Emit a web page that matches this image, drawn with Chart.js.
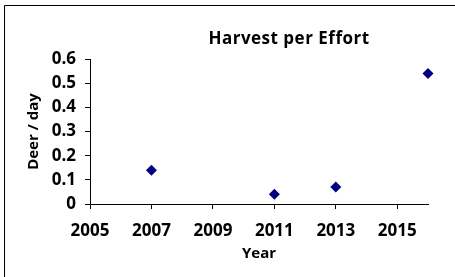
<!DOCTYPE html>
<html>
<head>
<meta charset="utf-8">
<script src="https://cdn.jsdelivr.net/npm/chart.js@4"></script>
<style>
  html, body { margin: 0; padding: 0; background: #fff; }
  #wrap { width: 455px; height: 277px; position: relative; }
</style>
</head>
<body>
<div id="wrap"><canvas id="harvestChart" width="455" height="277"></canvas></div>
<script>
const years = [2007, 2011, 2013, 2016];
const deerPerDay = [0.14, 0.04, 0.07, 0.54];
const xTicks = [2005, 2007, 2009, 2011, 2013, 2015];
const yTicks = [0, 0.1, 0.2, 0.3, 0.4, 0.5, 0.6];

const FONT = "'Open Sans', sans-serif";

// Excel-like frame and free-positioned title
const framePlugin = {
    id: "frame",
    afterDraw(chart) {
        const ctx = chart.ctx;
        ctx.save();
        ctx.strokeStyle = "#000";
        ctx.lineWidth = 1;
        ctx.beginPath();
        ctx.moveTo(4.5, 300);
        ctx.lineTo(4.5, 5.5);
        ctx.lineTo(460, 5.5);
        ctx.stroke();
        ctx.fillStyle = "#000";
        ctx.font = "bold 17px " + FONT;
        ctx.letterSpacing = "0.5px";
        ctx.textAlign = "center";
        ctx.textBaseline = "middle";
        ctx.fillText("Harvest per Effort", 289, 39);
        ctx.restore();
    }
};

new Chart(document.getElementById("harvestChart"), {
    type: "scatter",
    data: {
        datasets: [{
            label: "Harvest per Effort",
            data: years.map((y, i) => ({ x: y, y: deerPerDay[i] })),
            pointStyle: "rectRot",
            pointRadius: 5.5,
            pointHoverRadius: 5.5,
            backgroundColor: "#000080",
            borderColor: "#000080",
            borderWidth: 0,
            clip: false
        }]
    },
    options: {
        responsive: false,
        animation: false,
        layout: { padding: { top: 59, right: 27, bottom: 0, left: 0 } },
        plugins: {
            legend: { display: false },
            title: { display: false },
            tooltip: { enabled: false }
        },
        scales: {
            x: {
                type: "linear",
                min: 2005,
                max: 2016,
                afterBuildTicks: scale => { scale.ticks = xTicks.map(v => ({ value: v })); },
                afterFit: scale => { scale.height = 73; },
                border: { display: true, color: "#000", width: 1 },
                grid: { drawOnChartArea: false, color: "#000", tickLength: 5 },
                ticks: {
                    color: "#000",
                    font: { family: FONT, size: 17, weight: "bold" },
                    padding: 12,
                    maxRotation: 0,
                    autoSkip: false,
                    callback: v => String(v)
                },
                title: {
                    display: true,
                    text: "Year",
                    color: "#000",
                    font: { family: FONT, size: 15, weight: "bold" },
                    padding: { top: 0, bottom: 14 }
                }
            },
            y: {
                min: 0,
                max: 0.6,
                afterBuildTicks: scale => { scale.ticks = yTicks.map(v => ({ value: v })); },
                afterFit: scale => { scale.width = 90; },
                border: { display: true, color: "#000", width: 1 },
                grid: { drawOnChartArea: false, color: "#000", tickLength: 5 },
                ticks: {
                    color: "#000",
                    font: { family: FONT, size: 17, weight: "bold" },
                    padding: 9,
                    callback: v => String(Math.round(v * 10) / 10)
                },
                title: {
                    display: true,
                    text: "Deer / day",
                    color: "#000",
                    font: { family: FONT, size: 15, weight: "bold" },
                    padding: { top: 25, bottom: 0 }
                }
            }
        }
    },
    plugins: [framePlugin]
});
</script>
</body>
</html>
